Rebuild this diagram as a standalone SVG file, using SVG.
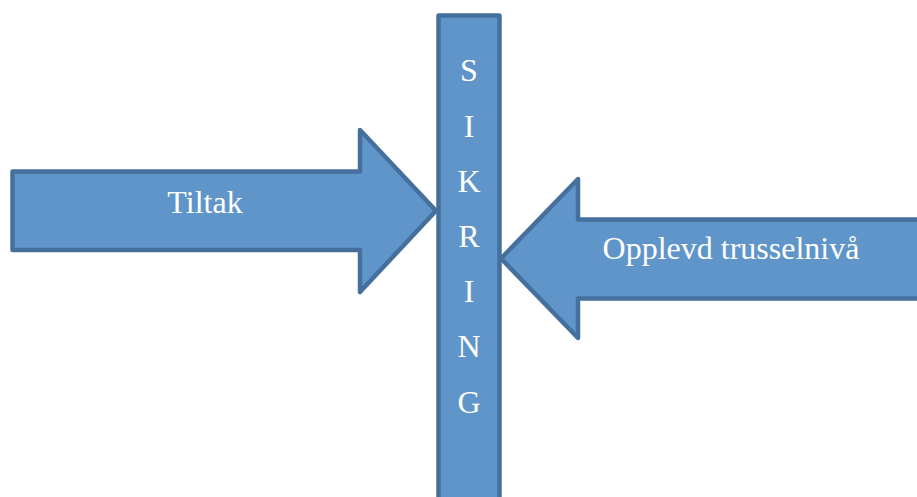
<svg xmlns="http://www.w3.org/2000/svg" width="917" height="497" viewBox="0 0 917 497">
<style>
.shape{fill:#5F95C9;stroke:#45709D;stroke-width:4.5;stroke-linejoin:round}
.lbl{font-family:"Liberation Serif","Times New Roman",serif;font-size:32px;fill:#FFFFFF;text-anchor:middle}
</style>
<rect width="917" height="497" fill="#FFFFFF"/>
<g id="tiltak">
<path class="shape" d="M12.5,171.5 H360 V130 L436,210.7 L360,292 V250 H12.5 Z"/>
<text class="lbl" x="205" y="213">Tiltak</text>
</g>
<g id="trussel">
<path class="shape" d="M930,219.5 H578 V179 L501,258.5 L578,338 V298.5 H930 Z"/>
<text class="lbl" x="731" y="259">Opplevd trusselnivå</text>
</g>
<g id="sikring">
<path class="shape" d="M438.5,520 V15.5 H499.5 V520"/>
<text class="lbl" x="469" y="81">S</text>
<text class="lbl" x="469" y="137">I</text>
<text class="lbl" x="469" y="192">K</text>
<text class="lbl" x="469" y="247">R</text>
<text class="lbl" x="469" y="302">I</text>
<text class="lbl" x="469" y="357">N</text>
<text class="lbl" x="469" y="413">G</text>
</g>
<g id="connectors"/>
</svg>
